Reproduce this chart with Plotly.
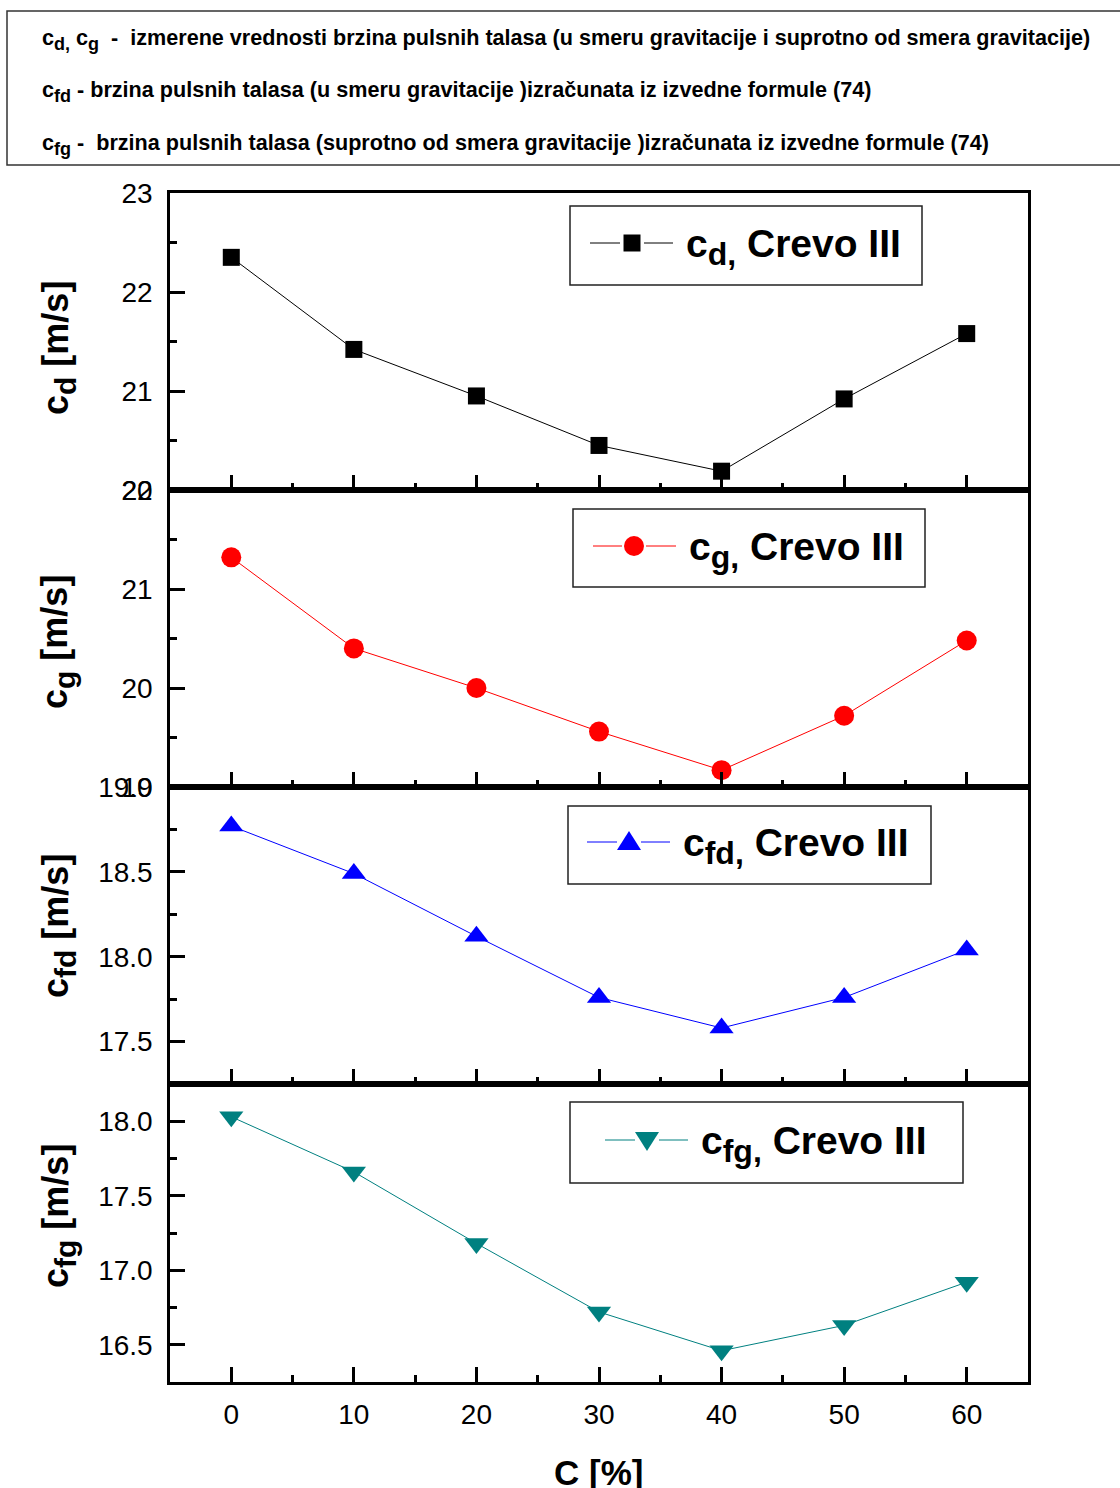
import plotly.graph_objects as go

W, H = 1120, 1488

# concentration [%]
C = [0, 10, 20, 30, 40, 50, 60]
# measured pulse wave velocities [m/s]
cd = [22.35, 21.42, 20.95, 20.45, 20.19, 20.92, 21.58]
cg = [21.32, 20.40, 20.00, 19.56, 19.17, 19.72, 20.48]
# velocities computed from formula (74) [m/s]
cfd = [18.77, 18.49, 18.12, 17.76, 17.58, 17.76, 18.04]
cfg = [18.03, 17.66, 17.18, 16.72, 16.46, 16.63, 16.92]

x_ticks = [0, 10, 20, 30, 40, 50, 60]


def sub(txt, size):
    """Subscript with an explicit (larger than default) font size."""
    return '<sub><span style="font-size:%dpx">%s</span></sub>' % (size, txt)


series_names = ["c" + sub("d,", 32) + " Crevo III", "c" + sub("g,", 32) + " Crevo III",
                "c" + sub("fd,", 32) + " Crevo III", "c" + sub("fg,", 32) + " Crevo III"]
axis_titles = ["c" + sub("d", 30) + " [m/s]", "c" + sub("g", 30) + " [m/s]",
               "c" + sub("fd", 30) + " [m/s]", "c" + sub("fg", 30) + " [m/s]"]
header_lines = [
    "c" + sub("d,", 18) + " c" + sub("g", 18)
    + "  -  izmerene vrednosti brzina pulsnih talasa (u smeru gravitacije i suprotno od smera gravitacije)",
    "c" + sub("fd", 18)
    + " - brzina pulsnih talasa (u smeru gravitacije )izračunata iz izvedne formule (74)",
    "c" + sub("fg", 18)
    + " -  brzina pulsnih talasa (suprotno od smera gravitacije )izračunata iz izvedne formule (74)",
]


def px(x):
    return x / W


def py(y):
    return 1 - y / H


FONT = "Liberation Sans, Arial, sans-serif"
colors = ["#000000", "#FF0000", "#0000FF", "#008080"]
symbols = ["square", "circle", "triangle-up", "triangle-down"]
msizes = [17, 20, 21, 21]
values = [cd, cg, cfd, cfg]

# panel pixel extents (top, bottom)
panels = [(193, 490), (490, 787), (787, 1084), (1084, 1382)]
yranges = [[20, 23], [19, 22], [17.25, 19.0], [16.25, 18.25]]
ydticks = [1, 1, 0.5, 0.5]
ytick0 = [20, 19, 17.5, 16.5]
yminor = [0.5, 0.5, 0.25, 0.25]
yformat = ["d", "d", ".1f", ".1f"]

fig = go.Figure()
layout = dict(
    width=W, height=H, autosize=False,
    margin=dict(l=0, r=0, t=0, b=0, pad=0),
    paper_bgcolor="white", plot_bgcolor="white",
    showlegend=False,
    font=dict(family=FONT, color="black"),
)

xdom = [px(170), px(1028)]
for i in range(4):
    n = "" if i == 0 else str(i + 1)
    top, bot = panels[i]
    fig.add_trace(go.Scatter(
        x=C, y=values[i], mode="lines+markers",
        line=dict(color=colors[i], width=1),
        marker=dict(symbol=symbols[i], size=msizes[i], color=colors[i]),
        xaxis="x" + n, yaxis="y" + n, name=series_names[i],
    ))
    layout["xaxis" + n] = dict(
        domain=xdom, anchor="y" + n, range=[-5, 65], automargin=False,
        tickmode="array", tickvals=x_ticks,
        ticks="inside", ticklen=15, tickwidth=2.5, tickcolor="black",
        minor=dict(ticks="inside", ticklen=7, tickwidth=2.5, dtick=5, tick0=5,
                   tickcolor="black", showgrid=False),
        showticklabels=(i == 3), ticklabelstandoff=6,
        tickfont=dict(size=28, family=FONT),
        showline=True, mirror=True, linewidth=2.5, linecolor="black",
        showgrid=False, zeroline=False,
    )
    layout["yaxis" + n] = dict(
        domain=[py(bot), py(top)], anchor="x" + n, range=yranges[i],
        automargin=False,
        tick0=ytick0[i], dtick=ydticks[i], tickformat=yformat[i],
        ticks="inside", ticklen=15, tickwidth=2.5, tickcolor="black",
        minor=dict(ticks="inside", ticklen=7, tickwidth=2.5, dtick=yminor[i],
                   tick0=ytick0[i] - yminor[i], tickcolor="black", showgrid=False),
        ticklabelstandoff=9,
        tickfont=dict(size=28, family=FONT),
        showline=True, mirror=True, linewidth=2.5, linecolor="black",
        showgrid=False, zeroline=False,
    )

shapes = []
annotations = []

# header box with the symbol descriptions
shapes.append(dict(type="rect", xref="paper", yref="paper",
                   x0=px(7), x1=px(1135), y0=py(165), y1=py(11),
                   line=dict(color="#333333", width=1.5)))
for yl, txt in zip([40, 92, 144], header_lines):
    annotations.append(dict(xref="paper", yref="paper", x=px(40), y=py(yl),
                            xanchor="left", yanchor="middle", showarrow=False,
                            text=txt, font=dict(size=21.6, family=FONT, weight="bold")))

# y axis titles
for yc, txt in zip([348, 642, 926, 1216], axis_titles):
    annotations.append(dict(xref="paper", yref="paper", x=px(58), y=py(yc),
                            xanchor="center", yanchor="middle", showarrow=False,
                            textangle=-90, text=txt,
                            font=dict(size=36, family=FONT, weight="bold")))

# x axis title
annotations.append(dict(xref="paper", yref="paper", x=px(598), y=py(1472),
                        xanchor="center", yanchor="middle", showarrow=False,
                        text="C [%]", font=dict(size=35, family=FONT, weight="bold")))

# per-panel legend boxes: (x0, x1, y0, y1, line_x0, marker_x, line_x1, line_y, text_x)
legend_boxes = [
    (570, 922, 206, 285, 590, 632, 673, 243, 684),
    (573, 925, 509, 587, 593, 634, 676, 546, 687),
    (568, 931, 806, 884, 587, 629, 670, 842, 681),
    (570, 963, 1102, 1183, 605, 647, 688, 1140, 699),
]
for i, (bx0, bx1, by0, by1, lx0, mx, lx1, ly, tx) in enumerate(legend_boxes):
    col = colors[i]
    shapes.append(dict(type="rect", xref="paper", yref="paper",
                       x0=px(bx0), x1=px(bx1), y0=py(by1), y1=py(by0),
                       line=dict(color="#222222", width=1.5)))
    half = 11
    shapes.append(dict(type="line", xref="paper", yref="paper",
                       x0=px(lx0), x1=px(mx - half - 1), y0=py(ly), y1=py(ly),
                       line=dict(color=col, width=1)))
    shapes.append(dict(type="line", xref="paper", yref="paper",
                       x0=px(mx + half + 1), x1=px(lx1), y0=py(ly), y1=py(ly),
                       line=dict(color=col, width=1)))
    if symbols[i] == "square":
        s = 8.5
        shapes.append(dict(type="rect", xref="paper", yref="paper",
                           x0=px(mx - s), x1=px(mx + s), y0=py(ly + s), y1=py(ly - s),
                           fillcolor=col, line=dict(width=0)))
    elif symbols[i] == "circle":
        r = 10
        shapes.append(dict(type="circle", xref="paper", yref="paper",
                           x0=px(mx - r), x1=px(mx + r), y0=py(ly + r), y1=py(ly - r),
                           fillcolor=col, line=dict(width=0)))
    else:
        w2, hh = 12, 10
        if symbols[i] == "triangle-up":
            pts = [(mx - w2, ly + hh * 0.8), (mx + w2, ly + hh * 0.8), (mx, ly - hh * 1.1)]
        else:
            pts = [(mx - w2, ly - hh * 0.8), (mx + w2, ly - hh * 0.8), (mx, ly + hh * 1.1)]
        path = "M {:.5f},{:.5f} L {:.5f},{:.5f} L {:.5f},{:.5f} Z".format(
            px(pts[0][0]), py(pts[0][1]), px(pts[1][0]), py(pts[1][1]),
            px(pts[2][0]), py(pts[2][1]))
        shapes.append(dict(type="path", xref="paper", yref="paper", path=path,
                           fillcolor=col, line=dict(width=0)))
    annotations.append(dict(xref="paper", yref="paper", x=px(tx), y=py(ly + 4),
                            xanchor="left", yanchor="middle", showarrow=False,
                            text=series_names[i],
                            font=dict(size=39, family=FONT, weight="bold")))

layout["shapes"] = shapes
layout["annotations"] = annotations
fig.update_layout(**layout)

fig.write_html("out.html")
